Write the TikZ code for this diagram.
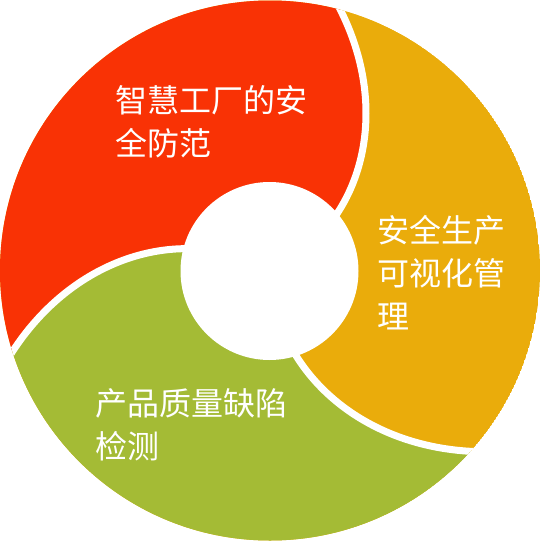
\documentclass[tikz,border=0pt]{standalone}
\usepackage{fontspec}
\newfontfamily\cjk{Noto Sans CJK SC}
\definecolor{segred}{RGB}{249,50,5}
\definecolor{segorange}{RGB}{234,172,11}
\definecolor{seggreen}{RGB}{164,187,53}
\begin{document}
\begin{tikzpicture}[x=1pt,y=-1pt,
  gapline/.style={white,line width=7pt},
  txtlabel/.style={text=white,anchor=north west,align=left,inner sep=0pt,font=\cjk\fontsize{32}{43}\selectfont}]
\useasboundingbox (0,0) rectangle (540,541);
\def\cx{270}\def\cy{270.5}
\begin{scope}
\clip (\cx,\cy) circle (270);
\fill[segorange] (\cx,\cy) circle (270);
\fill[segred] plot[domain=0:320,samples=60] ({\cx+\x*cos(40.5+(\x-89)*0.19)},{\cy-\x*sin(40.5+(\x-89)*0.19)})
  -- plot[domain=84.4:206.3,samples=40] ({\cx+320*cos(\x)},{\cy-320*sin(\x)})
  -- plot[domain=320:0,samples=60] ({\cx+\x*cos(165.8+(\x-89)*0.175)},{\cy-\x*sin(165.8+(\x-89)*0.175)}) -- cycle;
\fill[seggreen] plot[domain=0:320,samples=60] ({\cx+\x*cos(165.8+(\x-89)*0.175)},{\cy-\x*sin(165.8+(\x-89)*0.175)})
  -- plot[domain=206.3:326.5,samples=40] ({\cx+320*cos(\x)},{\cy-320*sin(\x)})
  -- plot[domain=320:0,samples=60] ({\cx+\x*cos(287+(\x-89)*0.171)},{\cy-\x*sin(287+(\x-89)*0.171)}) -- cycle;
\draw[gapline] plot[domain=80:300,samples=60] ({\cx+\x*cos(40.5+(\x-89)*0.19)},{\cy-\x*sin(40.5+(\x-89)*0.19)});
\draw[gapline] plot[domain=80:300,samples=60] ({\cx+\x*cos(165.8+(\x-89)*0.175)},{\cy-\x*sin(165.8+(\x-89)*0.175)});
\draw[gapline] plot[domain=80:300,samples=60] ({\cx+\x*cos(287+(\x-89)*0.171)},{\cy-\x*sin(287+(\x-89)*0.171)});
\end{scope}
\fill[white] (269.5,271) circle (89);
\node[txtlabel] (t1) at (115,85) {智慧工厂的安\\全防范};
\node[txtlabel] (t2) at (377,215) {安全生产\\可视化管\\理};
\node[txtlabel] (t3) at (95,388) {产品质量缺陷\\检测};
\end{tikzpicture}
\end{document}
